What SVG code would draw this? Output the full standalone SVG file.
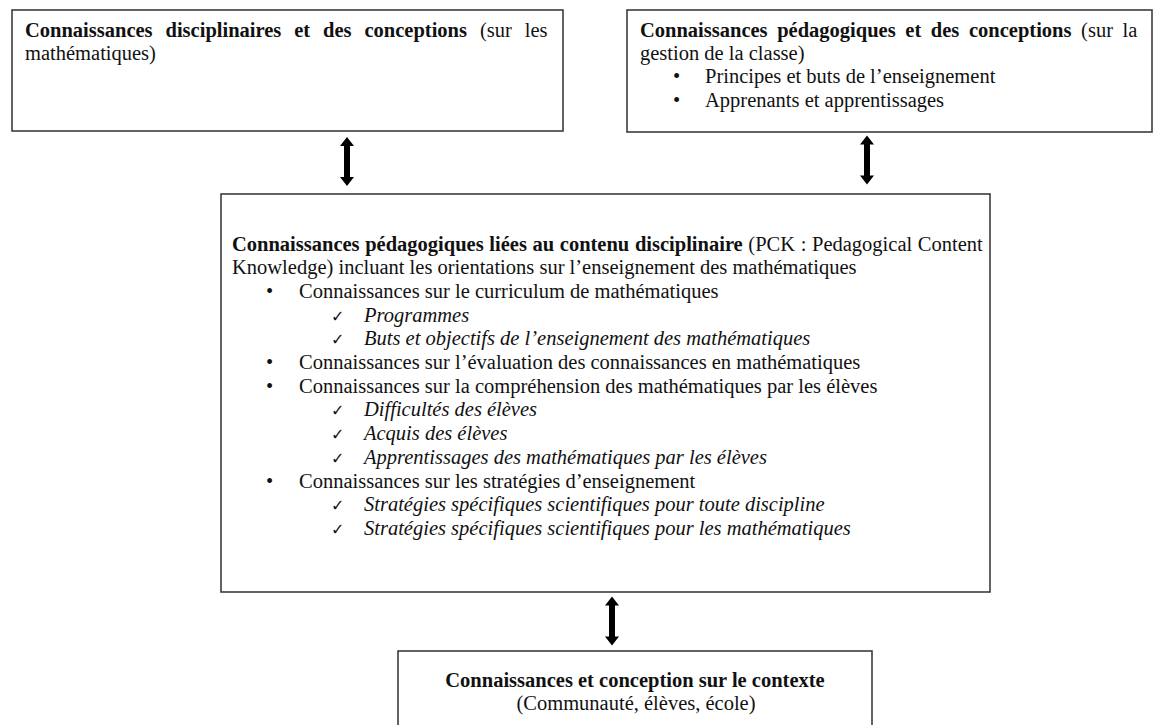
<svg xmlns="http://www.w3.org/2000/svg" width="1155" height="725" viewBox="0 0 1155 725">
<style>
.box{fill:#fff;stroke:#3c3c3c;stroke-width:1.6}
text{font-family:"Liberation Serif","Times New Roman",serif;font-size:20.5px;fill:#111}
.b{font-weight:bold}
.i{font-style:italic}
.ck{font-family:"DejaVu Sans",sans-serif;font-size:16px}
.arr{fill:#000}
</style>
<defs>
<path id="dblarrow" d="M0,-24.5 L7,-15.5 L3,-15.5 L3,15.5 L7,15.5 L0,24.5 L-7,15.5 L-3,15.5 L-3,-15.5 L-7,-15.5 Z"/>
</defs>
<rect width="1155" height="725" fill="#fff"/>

<g id="node-disciplinaires">
<rect class="box" x="12" y="10" width="551" height="121"/>
<text x="25" y="36.5" word-spacing="7.8"><tspan class="b">Connaissances disciplinaires et des conceptions</tspan> (sur les</text>
<text x="25" y="60">mathématiques)</text>
</g>

<g id="node-pedagogiques">
<rect class="box" x="627" y="10" width="525" height="122"/>
<text x="640" y="36.5" word-spacing="4.5"><tspan class="b">Connaissances pédagogiques et des conceptions</tspan> (sur la</text>
<text x="640" y="60">gestion de la classe)</text>
<text x="673" y="83">•</text><text x="705" y="83">Principes et buts de l’enseignement</text>
<text x="673" y="106.5">•</text><text x="705" y="106.5">Apprenants et apprentissages</text>
</g>

<g id="node-pck">
<rect class="box" x="221" y="194" width="769" height="398"/>
<text x="232" y="250.5" word-spacing="0.5"><tspan class="b">Connaissances pédagogiques liées au contenu disciplinaire</tspan> (PCK : Pedagogical Content</text>
<text x="232" y="274.2">Knowledge) incluant les orientations sur l’enseignement des mathématiques</text>
<text x="266" y="297.9">•</text><text x="299" y="297.9">Connaissances sur le curriculum de mathématiques</text>
<text class="ck" x="331" y="321.6">✓</text><text class="i" x="364" y="321.6">Programmes</text>
<text class="ck" x="331" y="345.3">✓</text><text class="i" x="364" y="345.3">Buts et objectifs de l’enseignement des mathématiques</text>
<text x="266" y="369">•</text><text x="299" y="369">Connaissances sur l’évaluation des connaissances en mathématiques</text>
<text x="266" y="392.7">•</text><text x="299" y="392.7">Connaissances sur la compréhension des mathématiques par les élèves</text>
<text class="ck" x="331" y="416.4">✓</text><text class="i" x="364" y="416.4">Difficultés des élèves</text>
<text class="ck" x="331" y="440.1">✓</text><text class="i" x="364" y="440.1">Acquis des élèves</text>
<text class="ck" x="331" y="463.8">✓</text><text class="i" x="364" y="463.8">Apprentissages des mathématiques par les élèves</text>
<text x="266" y="487.5">•</text><text x="299" y="487.5">Connaissances sur les stratégies d’enseignement</text>
<text class="ck" x="331" y="511.2">✓</text><text class="i" x="364" y="511.2">Stratégies spécifiques scientifiques pour toute discipline</text>
<text class="ck" x="331" y="534.9">✓</text><text class="i" x="364" y="534.9">Stratégies spécifiques scientifiques pour les mathématiques</text>
</g>

<g id="node-contexte">
<rect class="box" x="398" y="651" width="474" height="100"/>
<text class="b" x="635" y="686.5" text-anchor="middle">Connaissances et conception sur le contexte</text>
<text x="636" y="709.5" text-anchor="middle">(Communauté, élèves, école)</text>
</g>

<g id="connectors" class="arr">
<use href="#dblarrow" x="347" y="161.5"/>
<use href="#dblarrow" x="867" y="160"/>
<use href="#dblarrow" x="612" y="621"/>
</g>
</svg>
